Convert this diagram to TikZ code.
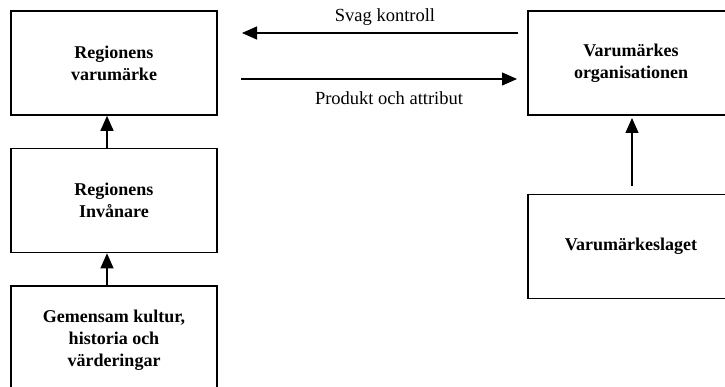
\documentclass[tikz,border=0pt]{standalone}
\usepackage{fontspec}
\setmainfont{Liberation Serif}
\usetikzlibrary{arrows.meta}
\begin{document}
\begin{tikzpicture}[x=1pt,y=-1pt,
  box/.style={draw, line width=1.6pt, minimum width=206pt, minimum height=104pt, align=center, inner sep=0pt, font=\fontsize{18}{22}\selectfont\bfseries},
  conn/.style={line width=1.2pt, -{Triangle[length=15pt,width=13pt]}},
  lbl/.style={inner sep=0pt, font=\fontsize{18.5}{22}\selectfont}]
\useasboundingbox (0,0) rectangle (725,387);
\node[box] (A) at (114,63) {Regionens\\varumärke};
\node[box] (B) at (114,200.5) {Regionens\\Invånare};
\node[box] (C) at (114,338) {};
\node[font=\fontsize{18}{22}\selectfont\bfseries, align=center, inner sep=0pt] (Ct) at (114,340) {Gemensam kultur,\\historia och\\värderingar};
\node[box] (D) at (631,63) {Varumärkes\\organisationen};
\node[box] (E) at (631,246.5) {Varumärkeslaget};
\coordinate (colL) at (107,0);
\draw[conn] (colL |- B.north) -- (colL |- A.south);
\draw[conn] (colL |- C.north) -- (colL |- B.south);
\coordinate (e1) at (632,186);
\coordinate (e2) at (632,118);
\draw[conn] (e1) -- (e2);
\coordinate (t1) at (518,33);
\coordinate (t2) at (242,33);
\draw[conn] (t1) -- (t2);
\coordinate (b1) at (241,79);
\coordinate (b2) at (517,79);
\draw[conn] (b1) -- (b2);
\node[lbl] (l1) at (385,17) {Svag kontroll};
\node[lbl] (l2) at (389,98) {Produkt och attribut};
\end{tikzpicture}
\end{document}
